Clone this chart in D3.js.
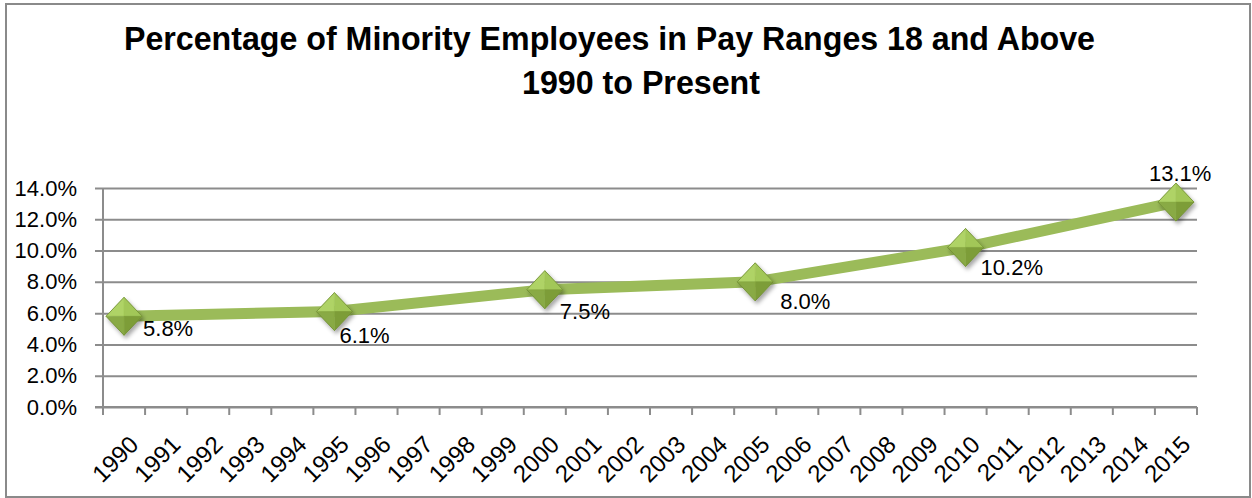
<!DOCTYPE html>
<html>
<head>
<meta charset="utf-8">
<script src="https://cdn.jsdelivr.net/npm/d3@7"></script>
<style>
  html, body { margin: 0; padding: 0; background: #fff; }
  svg { display: block; font-family: "Liberation Sans", Arial, sans-serif; }
</style>
</head>
<body>
<svg id="chart" width="1252" height="498"></svg>
<script>
// ---- data ----
const years = d3.range(1990, 2016).map(String)
const pointYears = ["1990", "1995", "2000", "2005", "2010", "2015"]
const pointValues = [0.058, 0.061, 0.075, 0.080, 0.102, 0.131]
const yTicks = [0, 0.02, 0.04, 0.06, 0.08, 0.10, 0.12, 0.14]
const titleLines = ["Percentage of Minority Employees in Pay Ranges 18 and Above", "1990 to Present"]

// label nudges (left x / baseline offset from the marker)
const labelNudge = [[19, 20], [5, 31], [15, 29], [25, 27], [15, 28], [-27, -21]]

const svg = d3.select("#chart")

const defs = svg.append("defs")
defs.append("filter")
    .attr("id", "shadow")
    .attr("x", "-50%").attr("y", "-50%").attr("width", "200%").attr("height", "200%")
  .append("feDropShadow")
    .attr("dx", 2).attr("dy", 3).attr("stdDeviation", 2)
    .attr("flood-color", "#000").attr("flood-opacity", 0.35)

// outer frame
svg.append("rect")
    .attr("x", 6).attr("y", 4).attr("width", 1244).attr("height", 493)
    .attr("fill", "#fff").attr("stroke", "#8a8a8a").attr("stroke-width", 2)

// title
svg.append("text")
    .attr("x", 124).attr("y", 50)
    .attr("textLength", 971).attr("lengthAdjust", "spacingAndGlyphs")
    .style("font-size", "34px").attr("font-weight", "bold")
    .text(titleLines[0])
svg.append("text")
    .attr("x", 522).attr("y", 94)
    .attr("textLength", 238).attr("lengthAdjust", "spacingAndGlyphs")
    .style("font-size", "34px").attr("font-weight", "bold")
    .text(titleLines[1])

// scales
const x = d3.scaleBand().domain(years).range([103, 1197]).padding(0)
const y = d3.scaleLinear().domain([0, 0.14]).range([407, 188])
const cx = d => x(d) + x.bandwidth() / 2

const gridColor = "#8c8c8c"

// y axis + gridlines
const yAxis = svg.append("g")
    .attr("transform", "translate(95,0)")
    .call(d3.axisLeft(y)
        .tickValues(yTicks)
        .tickFormat(d3.format(".1%"))
        .tickSize(-(1197 - 95))
        .tickPadding(18))
yAxis.select(".domain").remove()
yAxis.selectAll(".tick line").attr("stroke", gridColor).attr("stroke-width", 2)
yAxis.selectAll(".tick text")
    .style("font-size", "22px").attr("fill", "#000")
    .style("font-family", "'Liberation Sans', Arial, sans-serif")

svg.append("line")
    .attr("x1", x.range()[0]).attr("x2", x.range()[0])
    .attr("y1", y(0.14)).attr("y2", y(0) + 8)
    .attr("stroke", gridColor).attr("stroke-width", 2)

// x axis: boundary ticks
const xBase = svg.append("g")
xBase.append("line")
    .attr("x1", 95).attr("x2", x.range()[1])
    .attr("y1", y(0)).attr("y2", y(0))
    .attr("stroke", gridColor).attr("stroke-width", 2)
xBase.selectAll("line.bt")
    .data(years.concat(["end"]))
    .join("line")
    .attr("class", "bt")
    .attr("x1", (d, i) => x.range()[0] + i * x.bandwidth())
    .attr("x2", (d, i) => x.range()[0] + i * x.bandwidth())
    .attr("y1", y(0)).attr("y2", y(0) + 8)
    .attr("stroke", gridColor).attr("stroke-width", 2)

// x axis labels, rotated
const xAxis = svg.append("g")
    .attr("transform", `translate(0,${y(0)})`)
    .call(d3.axisBottom(x).tickSize(0).tickPadding(0))
xAxis.select(".domain").remove()
xAxis.selectAll(".tick text")
    .style("font-size", "24px").attr("fill", "#000")
    .style("font-family", "'Liberation Sans', Arial, sans-serif")
    .attr("text-anchor", "end")
    .attr("y", 0).attr("dy", "0.35em")
    .attr("transform", "translate(10,33) rotate(-45)")

// series line
const pts = pointYears.map((d, i) => ({ year: d, value: pointValues[i] }))
svg.append("path")
    .datum(pts)
    .attr("fill", "none")
    .attr("stroke", "#9bbb59")
    .attr("stroke-width", 11)
    .attr("stroke-linejoin", "round")
    .attr("d", d3.line().x(d => cx(d.year)).y(d => y(d.value)))

// diamond markers, faceted
const hw = 18, hh = 19
const facets = [
    { pts: (a, b) => [[a - hw, b], [a, b - hh], [a, b]], fill: "#afd366" },
    { pts: (a, b) => [[a, b - hh], [a + hw, b], [a, b]], fill: "#a2c758" },
    { pts: (a, b) => [[a + hw, b], [a, b + hh], [a, b]], fill: "#7d9d39" },
    { pts: (a, b) => [[a, b + hh], [a - hw, b], [a, b]], fill: "#89aa44" }
]
const markers = svg.append("g").selectAll("g.marker")
    .data(pts)
    .join("g")
    .attr("class", "marker")
    .attr("filter", "url(#shadow)")
markers.each(function(d) {
    const g = d3.select(this)
    const a = cx(d.year), b = y(d.value)
    facets.forEach(f => {
        g.append("polygon")
            .attr("points", f.pts(a, b).map(p => p.join(",")).join(" "))
            .attr("fill", f.fill)
            .attr("stroke", f.fill).attr("stroke-width", 0.5)
    })
    g.append("polygon")
        .attr("points", [[a - hw, b], [a, b - hh], [a + hw, b], [a, b + hh]].map(p => p.join(",")).join(" "))
        .attr("fill", "none").attr("stroke", "#6f8c33").attr("stroke-width", 0.8)
})

// data labels
svg.append("g").selectAll("text")
    .data(pts)
    .join("text")
    .attr("x", (d, i) => cx(d.year) + labelNudge[i][0])
    .attr("y", (d, i) => y(d.value) + labelNudge[i][1])
    .style("font-size", "22px").attr("fill", "#000")
    .text(d => d3.format(".1%")(d.value))
</script>
</body>
</html>
